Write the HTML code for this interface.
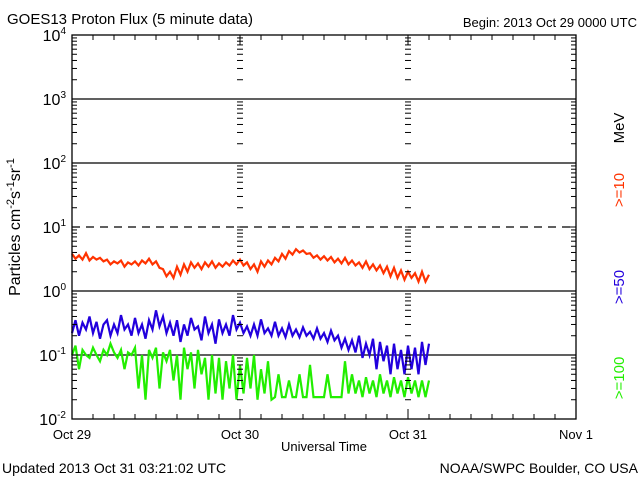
<!DOCTYPE html>
<html><head><meta charset="utf-8"><style>
html,body{margin:0;padding:0;background:#fff;}
svg{display:block;font-family:"Liberation Sans",sans-serif;}
</style></head><body>
<svg id="chart" width="640" height="480" viewBox="0 0 640 480">
<rect width="640" height="480" fill="#fff"/>
<text x="7" y="24" font-size="15">GOES13 Proton Flux (5 minute data)</text>
<text x="637" y="27" font-size="13" text-anchor="end">Begin: 2013 Oct 29 0000 UTC</text>
<text transform="translate(20,227) rotate(-90)" font-size="16" text-anchor="middle">Particles cm<tspan dy="-6" font-size="11">-2</tspan><tspan dy="6">s</tspan><tspan dy="-6" font-size="11">-1</tspan><tspan dy="6">sr</tspan><tspan dy="-6" font-size="11">-1</tspan></text>
<text x="324" y="451" font-size="13" text-anchor="middle">Universal Time</text>
<text x="2" y="473" font-size="14">Updated 2013 Oct 31 03:21:02 UTC</text>
<text x="638" y="473" font-size="14" text-anchor="end">NOAA/SWPC Boulder, CO USA</text>
<text transform="translate(624,128) rotate(-90)" font-size="15" text-anchor="middle">MeV</text>
<text transform="translate(624,190) rotate(-90)" font-size="15" fill="#ff3300" text-anchor="middle">&gt;=10</text>
<text transform="translate(624,287) rotate(-90)" font-size="15" fill="#2200dd" text-anchor="middle">&gt;=50</text>
<text transform="translate(624,378) rotate(-90)" font-size="15" fill="#22ee00" text-anchor="middle">&gt;=100</text>
<g id="grid"></g><g id="series"></g><g id="axes"></g>
</svg>
<script>
const dayLabels = ["Oct 29","Oct 30","Oct 31","Nov 1"];
const decades = [-2,-1,0,1,2,3,4];
const stepHours = 0.5;
const red = [3.8,3.2,3.6,3.1,3.9,3.0,3.4,3.1,3.3,2.9,
3.1,2.6,2.9,2.7,3.0,2.4,2.8,2.6,2.9,2.5,
3.0,2.7,3.2,2.6,2.9,2.3,2.2,1.7,2.0,1.6,
2.4,1.8,2.6,2.0,2.8,2.3,2.7,2.2,2.8,2.4,
2.9,2.3,2.7,2.4,2.8,2.5,3.0,2.6,3.1,2.5,
2.8,2.2,2.6,2.0,2.9,2.4,3.0,2.6,3.3,2.9,
3.8,3.2,4.2,3.7,4.5,4.0,4.3,3.8,3.9,3.3,
3.6,3.1,3.5,3.0,3.4,2.8,3.2,2.7,3.3,2.6,
3.0,2.5,2.8,2.3,2.9,2.2,2.6,2.1,2.5,1.9,
2.4,1.7,2.3,1.6,2.1,1.5,2.0,1.6,1.9,1.4,
2.0,1.4,1.8];
const blue = [0.22,0.35,0.2,0.32,0.25,0.4,0.22,0.33,0.18,0.3,
0.35,0.2,0.3,0.22,0.42,0.25,0.3,0.2,0.38,0.22,
0.3,0.18,0.35,0.25,0.5,0.28,0.4,0.22,0.32,0.2,
0.35,0.16,0.3,0.2,0.38,0.25,0.28,0.17,0.4,0.22,
0.3,0.15,0.36,0.22,0.3,0.2,0.42,0.25,0.32,0.22,
0.28,0.2,0.3,0.2,0.36,0.22,0.26,0.2,0.33,0.2,
0.26,0.19,0.3,0.2,0.25,0.19,0.27,0.2,0.23,0.18,
0.26,0.18,0.22,0.16,0.24,0.17,0.2,0.13,0.18,0.12,
0.17,0.11,0.2,0.09,0.15,0.1,0.18,0.06,0.16,0.08,
0.14,0.05,0.15,0.06,0.12,0.05,0.14,0.06,0.13,0.05,
0.16,0.07,0.15];
const green = [0.1,0.14,0.06,0.12,0.1,0.09,0.13,0.1,0.08,0.12,
0.1,0.15,0.11,0.09,0.12,0.06,0.11,0.1,0.13,0.03,
0.1,0.02,0.12,0.09,0.13,0.03,0.11,0.08,0.12,0.04,
0.1,0.02,0.13,0.06,0.11,0.03,0.12,0.05,0.09,0.02,
0.1,0.025,0.09,0.02,0.08,0.03,0.1,0.02,0.07,0.025,
0.09,0.03,0.1,0.02,0.06,0.025,0.08,0.02,0.022,0.05,
0.022,0.022,0.04,0.022,0.022,0.05,0.022,0.022,0.07,0.022,
0.022,0.022,0.022,0.05,0.022,0.022,0.022,0.022,0.08,0.025,
0.05,0.025,0.04,0.022,0.045,0.025,0.04,0.022,0.05,0.025,
0.04,0.022,0.045,0.025,0.04,0.022,0.045,0.025,0.04,0.022,
0.04,0.022,0.04];

const X0=72, X1=576, Y0=35, Y1=419;
const NS="http://www.w3.org/2000/svg";
function xs(h){return X0+(X1-X0)*h/72;}
function ys(v){return Y1-(Y1-Y0)*(Math.log10(v)+2)/6;}
function mk(tag,attrs,parent){const e=document.createElementNS(NS,tag);for(const k in attrs)e.setAttribute(k,attrs[k]);parent.appendChild(e);return e;}
const grid=document.getElementById('grid'), axes=document.getElementById('axes'), ser=document.getElementById('series');

[-1,0,1,2,3].forEach(d=>{
  const l=mk('line',{x1:X0,x2:X1,y1:ys(Math.pow(10,d)),y2:ys(Math.pow(10,d)),stroke:'#000','stroke-width':1.3},grid);
  if(d===1) l.setAttribute('stroke-dasharray','8,6');
  
  
});
const fr=mk('rect',{x:X0,y:Y0,width:X1-X0,height:Y1-Y0,fill:'none',stroke:'#000','stroke-width':1.3},axes);


const tickXs=[[X0,1],[X1,-1],[xs(24)-3,1],[xs(48)-3,1]];
for(let d=-2;d<4;d++){
  for(let m=1;m<10;m++){
    const y=ys(m*Math.pow(10,d));
    const len=m===1?8:5;
    tickXs.forEach(([x,dir],i)=>{
      const t=mk('line',{x1:x,x2:x+dir*(i>=2?6:len),y1:y,y2:y,stroke:'#000','stroke-width':1},axes);
      
      
    });
  }
}
decades.forEach(d=>{
  const t=mk('text',{x:X0-6,y:ys(Math.pow(10,d))+6,'font-size':16,'text-anchor':'end'},axes);
  
  
  t.innerHTML='10<tspan dy="-7" font-size="10">'+d+'</tspan>';
});
for(let h=3;h<72;h+=3){
  const len=h%24===0?10:5;
  [[Y0,1],[Y1,-1]].forEach(([y,dir])=>{
    const t=mk('line',{x1:xs(h),x2:xs(h),y1:y,y2:y+dir*len,stroke:'#000','stroke-width':1},axes);
    
    
  });
}
dayLabels.forEach((s,i)=>{
  const t=mk('text',{x:xs(i*24),y:439,'font-size':13,'text-anchor':'middle'},axes);
  
  
  t.textContent=s;
});
function draw(arr,color,name){
  const pts=arr.map((v,i)=>xs(i*stepHours).toFixed(1)+','+ys(v).toFixed(1)).join(' ');
  const p=mk('polyline',{points:pts,fill:'none',stroke:color,'stroke-width':2.2,'stroke-linejoin':'miter'},ser);
  
  
}
draw(green,'#22ee00','series-100mev');
draw(blue,'#2200dd','series-50mev');
draw(red,'#ff3300','series-10mev');
</script>
</body></html>
